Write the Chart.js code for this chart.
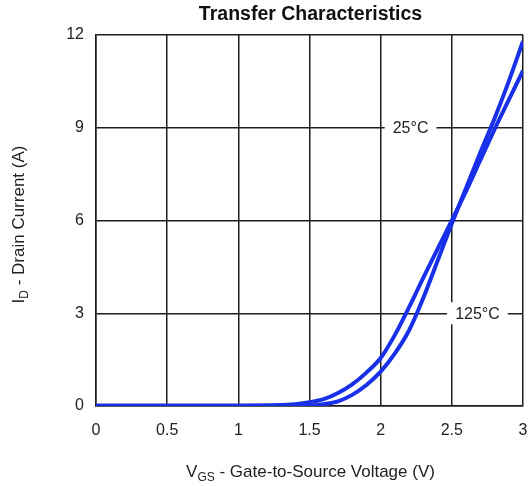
<!DOCTYPE html>
<html>
<head>
<meta charset="utf-8">
<script src="https://cdn.jsdelivr.net/npm/chart.js@4.4.1/dist/chart.umd.min.js"></script>
<style>
  html, body { margin: 0; padding: 0; background: #fff; }
  #wrap { width: 528px; height: 486px; position: relative; }
</style>
</head>
<body>
<div id="wrap"><canvas id="c" width="528" height="486"></canvas></div>
<script>
// ---- data ----
const chartTitle = 'Transfer Characteristics';
const vgs = [0, 0.5, 1.0, 1.3, 1.4, 1.5, 1.6, 1.7, 1.8, 1.9, 2.0, 2.1, 2.2, 2.3, 2.4, 2.5, 2.6, 2.7, 2.8, 2.9, 3.0];
const id25 = [0, 0, 0, 0, 0.005, 0.01, 0.06, 0.15, 0.36, 0.68, 1.11, 1.7, 2.45, 3.5, 4.7, 5.9, 7.05, 8.2, 9.3, 10.5, 11.8];
const id125 = [0.02, 0.02, 0.02, 0.03, 0.06, 0.12, 0.22, 0.42, 0.7, 1.08, 1.55, 2.3, 3.2, 4.15, 5.08, 6.0, 6.95, 7.95, 8.95, 9.9, 10.85];
const seriesNames = ['25°C', '125°C'];
const xTicks = [0, 0.5, 1, 1.5, 2, 2.5, 3];
const yTicks = [0, 3, 6, 9, 12];
const labelSpots = [[2.21, 9], [2.68, 3]];

const blue = 'rgb(24,48,232)';
const gridCol = '#1e1e1e';
const FONT = "'Liberation Sans', Arial, sans-serif";

const toPts = (ys) => vgs.map((x, i) => ({ x: x, y: ys[i] }));

const overlay = {
  id: 'overlay',
  afterDatasetsDraw(chart) {
    const ctx = chart.ctx;
    const xs = chart.scales.x, ys = chart.scales.y;
    ctx.save();
    ctx.font = '16px ' + FONT;
    ctx.textAlign = 'center';
    ctx.textBaseline = 'middle';
    seriesNames.forEach((name, i) => {
      const px = xs.getPixelForValue(labelSpots[i][0]);
      const py = ys.getPixelForValue(labelSpots[i][1]);
      const w = ctx.measureText(name).width + 16;
      ctx.fillStyle = '#fff';
      ctx.fillRect(px - w / 2, py - 11, w, 22);
      ctx.fillStyle = '#222';
      ctx.fillText(name, px, py + 1);
    });
    ctx.restore();
  },
  afterDraw(chart) {
    const ctx = chart.ctx;
    const a = chart.chartArea;
    ctx.save();
    ctx.fillStyle = '#111';
    ctx.font = 'bold 19.5px ' + FONT;
    ctx.textAlign = 'center';
    ctx.textBaseline = 'middle';
    ctx.fillText(chartTitle, (a.left + a.right) / 2 + 1, 15);

    function drawSub(parts, cx, cy) {
      const big = '17px ' + FONT, small = '12px ' + FONT;
      let total = 0;
      parts.forEach(p => { ctx.font = p.sub ? small : big; total += ctx.measureText(p.t).width; });
      let x = cx - total / 2;
      ctx.textAlign = 'left';
      ctx.textBaseline = 'alphabetic';
      parts.forEach(p => {
        ctx.font = p.sub ? small : big;
        ctx.fillText(p.t, x, cy + (p.sub ? 4 : 0));
        x += ctx.measureText(p.t).width;
      });
    }
    ctx.fillStyle = '#222';
    drawSub([{ t: 'V' }, { t: 'GS', sub: true }, { t: ' - Gate-to-Source Voltage (V)' }], (a.left + a.right) / 2 + 1, 477);
    ctx.save();
    ctx.translate(24, (a.top + a.bottom) / 2 + 4);
    ctx.rotate(-Math.PI / 2);
    drawSub([{ t: 'I' }, { t: 'D', sub: true }, { t: ' - Drain Current (A)' }], 0, 0);
    ctx.restore();
    ctx.restore();
  }
};

new Chart(document.getElementById('c'), {
  type: 'line',
  data: {
    datasets: [
      { label: seriesNames[0], data: toPts(id25), borderColor: blue, borderWidth: 4,
        pointRadius: 0, cubicInterpolationMode: 'monotone', fill: false },
      { label: seriesNames[1], data: toPts(id125), borderColor: blue, borderWidth: 4,
        pointRadius: 0, cubicInterpolationMode: 'monotone', fill: false }
    ]
  },
  options: {
    responsive: false,
    animation: false,
    devicePixelRatio: 1,
    layout: { padding: { left: 0, right: 5, top: 35, bottom: 0 } },
    plugins: { legend: { display: false }, title: { display: false }, tooltip: { enabled: false } },
    scales: {
      x: {
        type: 'linear', min: 0, max: 3,
        afterBuildTicks: (s) => { s.ticks = xTicks.map(v => ({ value: v })); },
        afterFit: (s) => { s.height = 80; s.paddingLeft = 0; s.paddingRight = 0; },
        grid: { color: gridCol, lineWidth: 1.5, drawTicks: false },
        border: { color: gridCol, width: 1.5 },
        ticks: { padding: 15, color: '#222', font: { family: FONT, size: 16 }, maxRotation: 0,
                 callback: (v) => String(v) }
      },
      y: {
        type: 'linear', min: 0, max: 12,
        afterBuildTicks: (s) => { s.ticks = yTicks.map(v => ({ value: v })); },
        afterFit: (s) => { s.width = 96; s.paddingTop = 0; s.paddingBottom = 0; },
        grid: { color: gridCol, lineWidth: 1.5, drawTicks: false },
        border: { color: gridCol, width: 1.5 },
        ticks: { padding: 12, color: '#222', font: { family: FONT, size: 16 },
                 callback: (v) => String(v) }
      }
    }
  },
  plugins: [overlay]
});
</script>
</body>
</html>
